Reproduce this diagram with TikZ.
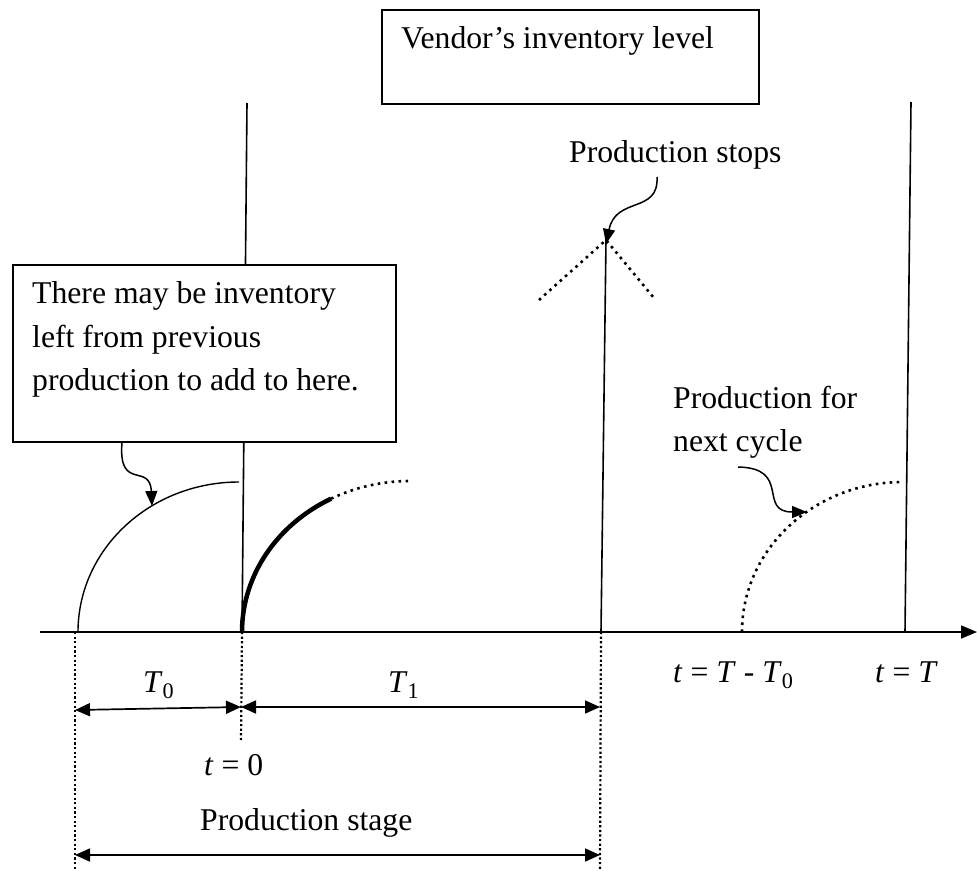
\documentclass[tikz,border=0pt]{standalone}
\usepackage{fontspec}
\setmainfont{Liberation Serif}
\usetikzlibrary{arrows.meta, positioning}

\begin{document}
\begin{tikzpicture}[x=1pt, y=-1pt,
    box/.style={draw, fill=white, line width=1.5pt, rectangle, anchor=north west, inner sep=0pt},
    txt/.style={inner sep=0pt, align=left, font=\fontsize{31.7pt}{43.5pt}\selectfont},
    level/.style={line width=1.6pt},
    guide/.style={line width=2.2pt, dash pattern=on 2.2pt off 2.4pt},
    dots/.style={line width=2.6pt, dash pattern=on 2.6pt off 4.4pt},
    span/.style={line width=1.7pt, {Triangle[length=15pt,width=13pt]}-{Triangle[length=15pt,width=13pt]}},
    callout/.style={line width=1.5pt, -{Triangle[length=15pt,width=12pt]}}
]
    \useasboundingbox (0,0) rectangle (977,870);

    % Time axis and key instants
    \coordinate (o) at (242,632);
    \coordinate (ts) at (601,632);
    \coordinate (tn) at (742,632);
    \coordinate (tT) at (905,632);
    \draw[line width=1.7pt, -{Triangle[length=16pt,width=13pt]}] (40,632) -- (977,632);

    % Inventory level lines
    \draw[level] (o) -- (247,103);
    \draw[level] (ts) -- (606,240) coordinate (peak);
    \draw[level] (tT) -- (911,102);
    \draw[dots] (539,300) -- (peak) -- (654,298);

    % Boxes
    \node[box, minimum width=377pt, minimum height=94pt] (vendorbox) at (381,9) {};
    \node[txt, anchor=base west] (vendor) at (401,48) {Vendor's inventory level};

    \node[box, minimum width=383pt, minimum height=177pt] (leftbox) at (12,264) {};
    \node[txt, anchor=north west] (leftnote) at (32,281.5) {There may be inventory\\left from previous\\production to add to here.};

    % Production curves
    \draw[line width=1.4pt] (78,632) arc[start angle=180, end angle=270, x radius=161, y radius=150];
    \draw[line width=4.5pt] (o) arc[start angle=180, end angle=242, x radius=168, y radius=151] coordinate (boldend);
    \draw[dots] (boldend) arc[start angle=242, end angle=270, x radius=168, y radius=151];
    \draw[dots] (tn) arc[start angle=180, end angle=270, x radius=161, y radius=150];

    % Callouts
    \node[txt, anchor=base west] (stops) at (569,162) {Production stops};
    \node[txt, anchor=north west] (nextcycle) at (673,385.5) {Production for\\next cycle};
    \coordinate (prevtip) at (152,506);
    \coordinate (stopsfrom) at (657,177);
    \coordinate (nextfrom) at (738,467);
    \coordinate (nexttip) at (807,512);
    \draw[callout] ([xshift=110pt]leftbox.south west) .. controls (118,492) and (150,462) .. (prevtip);
    \draw[callout] (stopsfrom) .. controls (659,214) and (616,196) .. ([yshift=-4pt]peak);
    \draw[callout] (nextfrom) .. controls (792,468) and (757,512) .. (nexttip);

    % Guides and spans
    \draw[guide] (75,632) coordinate (g0) -- (75,870);
    \draw[guide] (o) -- (241,742);
    \draw[guide] (ts) -- (600,870);
    \draw[span] (75,710) -- (241,707) coordinate (mid);
    \draw[span] (mid) -- (600,707);
    \draw[span] (75,855) -- (600,855);

    % Labels
    \node[txt, anchor=base west] (lt0) at (143,692) {\textit{T}\textsubscript{0}};
    \node[txt, anchor=base west] (lt1) at (388,692) {\textit{T}\textsubscript{1}};
    \node[txt, anchor=base west] (tzero) at (204,775) {\textit{t} = 0};
    \node[txt, anchor=base west] (stage) at (200,830) {Production stage};
    \node[txt, anchor=base west] (tnext) at (673,682) {\textit{t} = \textit{T} - \textit{T}\textsubscript{0}};
    \node[txt, anchor=base west] (tend) at (875,682) {\textit{t} = \textit{T}};

\end{tikzpicture}
\end{document}
